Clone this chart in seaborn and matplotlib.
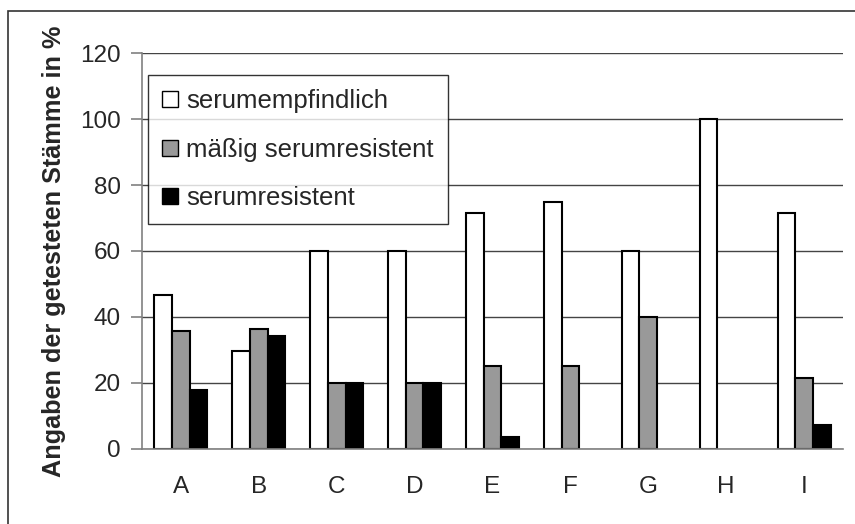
import numpy as np
import pandas as pd
import seaborn as sns
import matplotlib.pyplot as plt
from matplotlib.patches import Rectangle

# === Données ===
kategorien = ["A", "B", "C", "D", "E", "F", "G", "H", "I"]
serumempfindlich = [46.7, 29.5, 60, 60, 71.4, 75, 60, 100, 71.4]
maessig_resistent = [35.6, 36.4, 20, 20, 25.0, 25, 40, 0, 21.4]
serumresistent = [17.8, 34.1, 20, 20, 3.6, 0, 0, 0, 7.1]
gruppen = ["serumempfindlich", "mäßig serumresistent", "serumresistent"]
farben = ["#ffffff", "#999999", "#000000"]

df = pd.DataFrame({
    "Stamm": kategorien * 3,
    "Gruppe": [gruppen[0]] * 9 + [gruppen[1]] * 9 + [gruppen[2]] * 9,
    "Wert": serumempfindlich + maessig_resistent + serumresistent,
})
# 0 % -> pas de barre visible
df["Wert"] = df["Wert"].replace(0, np.nan)

sns.set_style("white")
plt.rcParams["font.family"] = ["Liberation Sans", "DejaVu Sans"]

fig = plt.figure(figsize=(8.55, 5.24), dpi=100)
ax = fig.add_axes([0.166, 0.144, 0.82, 0.754])

sns.barplot(data=df, x="Stamm", y="Wert", hue="Gruppe", hue_order=gruppen,
            order=kategorien, palette=farben, width=0.68,
            edgecolor="black", linewidth=1.5, ax=ax)

# === Achsen ===
ax.set_ylim(0, 120)
ax.set_xlim(-0.5, 8.5)
ax.set_yticks(range(0, 121, 20))
ax.yaxis.grid(True, color="#444444", linewidth=1)
ax.set_axisbelow(True)
for s in ["top", "right"]:
    ax.spines[s].set_visible(False)
for s in ["left", "bottom"]:
    ax.spines[s].set_color("#808080")
    ax.spines[s].set_linewidth(1.2)

ax.set_xticks([i - 0.5 for i in range(10)], minor=True)
ax.tick_params(axis="x", which="major", length=0, pad=20, labelsize=17.5)
ax.tick_params(axis="x", which="minor", length=8, width=1.2, color="#808080", direction="out")
ax.tick_params(axis="y", length=8, width=1.2, color="#808080", direction="out",
               labelsize=17.5, pad=7, left=True)

ax.set_xlabel("")
ax.set_ylabel("Angaben der getesteten Stämme in %", fontsize=18.2, fontweight="bold", labelpad=10)

# === Legende ===
leg = ax.legend(loc="upper left", bbox_to_anchor=(0.009, 0.945), borderaxespad=0,
                fontsize=18.5, frameon=True, fancybox=False, edgecolor="black",
                handlelength=0.6, handleheight=0.6, labelspacing=0.95,
                handletextpad=0.33, borderpad=0.55)
leg.get_frame().set_linewidth(1.0)
for h in leg.legend_handles:
    h.set_linewidth(1.0)

# === Cadre ===
fig.add_artist(Rectangle((0.0094, -0.5), 1.5, 0.979 + 0.5, transform=fig.transFigure,
                         fill=False, edgecolor="#333333", linewidth=1.2))

plt.savefig("out.png", dpi=100)
